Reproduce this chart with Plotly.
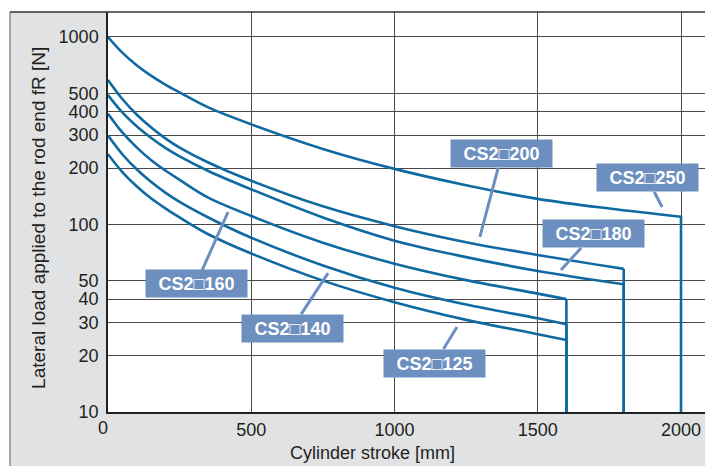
import math
import plotly.graph_objects as go

# ---------------- data ----------------
models = ["CS2□250", "CS2□200", "CS2□180", "CS2□160", "CS2□140", "CS2□125"]

stroke_250 = [0, 50, 100, 150, 200, 250, 350, 500, 750, 1000, 1250, 1500, 1750, 2000]
load_250 = [1000, 825, 707, 622, 557, 506, 421, 342, 253, 198, 162, 137, 121.6, 110]

stroke_200 = [0, 50, 100, 150, 200, 250, 350, 500, 750, 1000, 1250, 1500, 1800]
load_200 = [590, 467, 386, 330, 288, 257, 214, 171, 125, 98, 80.5, 68.7, 58]

stroke_180 = [0, 50, 100, 150, 200, 250, 350, 500, 750, 1000, 1250, 1500, 1800]
load_180 = [490, 396, 334, 290, 256, 230.7, 193, 154, 109, 82, 67, 56.5, 48]

stroke_160 = [0, 50, 100, 150, 200, 250, 350, 500, 750, 1000, 1250, 1500, 1600]
load_160 = [390, 310, 258, 221, 194, 173, 139, 111, 80, 61.8, 50.5, 42.8, 40]

stroke_140 = [0, 50, 100, 150, 200, 250, 350, 500, 750, 1000, 1250, 1500, 1600]
load_140 = [298, 237, 197, 169, 148, 132, 109, 85, 60.5, 46, 37.4, 31.6, 29.4]

stroke_125 = [0, 50, 100, 150, 200, 250, 350, 500, 750, 1000, 1250, 1500, 1600]
load_125 = [237, 190.5, 160, 138, 122, 109, 88.7, 70, 50.2, 38.5, 31, 26, 24.2]

y_floor = 10  # lower limit of the chart the curves drop to

# label callouts: point on curve (stroke, load) for each model
label_tip_stroke = [1934, 1298, 1581, 419, 768, 1218]
label_tip_load = [124, 85.8, 57.2, 116.6, 55, 28.4]

x_tickvals = [500, 1000, 1500, 2000]
x_ticktext = ["500", "1000", "1500", "2000"]
y_tickvals = [10, 20, 30, 40, 50, 100, 200, 300, 400, 500, 1000]
y_ticktext = ["10", "20", "30", "40", "50", "100", "200", "300", "400", "500", "1000"]

# ---------------- styling ----------------
CURVE = "#0f6aa1"
LABEL_BG = "#6d8fbf"
TXT = "#231f20"
FONT = "Liberation Sans, Arial, sans-serif"

fig = go.Figure()

series = [
    (stroke_250, load_250),
    (stroke_200, load_200),
    (stroke_180, load_180),
    (stroke_160, load_160),
    (stroke_140, load_140),
    (stroke_125, load_125),
]

for name, (sx, sy) in zip(models, series):
    fig.add_trace(go.Scatter(
        x=sx, y=sy, mode="lines", name=name,
        line=dict(color=CURVE, width=2.6, shape="spline", smoothing=1.0),
        showlegend=False, hoverinfo="skip"))
    fig.add_trace(go.Scatter(
        x=[sx[-1], sx[-1]], y=[sy[-1], y_floor], mode="lines",
        line=dict(color=CURVE, width=2.6),
        showlegend=False, hoverinfo="skip"))

# label boxes
label_offsets = [(-15, -29), (22, -83), (33, -36), (-32, 72), (-36, 55), (-22, 36)]
for name, tx, ty, (ax, ay) in zip(models, label_tip_stroke, label_tip_load, label_offsets):
    fig.add_annotation(
        x=tx, y=math.log10(ty), xref="x", yref="y",
        text=name, showarrow=True, arrowhead=0, arrowwidth=3,
        arrowcolor=LABEL_BG, ax=ax, ay=ay,
        bgcolor=LABEL_BG, borderpad=2, width=97, height=23,
        font=dict(family=FONT, size=18, color="white", weight="bold"))

# axis titles and the lone "0" tick label
fig.add_annotation(x=0.438, y=-0.1025, xref="paper", yref="paper",
                   text="Cylinder stroke [mm]", showarrow=False,
                   xanchor="center", yanchor="middle",
                   font=dict(family=FONT, size=18, color=TXT))
fig.add_annotation(x=-0.1152, y=0.486, xref="paper", yref="paper",
                   text="Lateral load applied to the rod end fR [N]",
                   textangle=-90, showarrow=False,
                   xanchor="center", yanchor="middle",
                   font=dict(family=FONT, size=19, color=TXT))
fig.add_annotation(x=-0.0078, y=-0.04, xref="paper", yref="paper",
                   text="0", showarrow=False, xanchor="center", yanchor="middle",
                   font=dict(family=FONT, size=18, color=TXT))

# panel frame: white strips outside the grey panel, border lines
fig.add_shape(type="rect", xref="paper", yref="paper", x0=-0.3, x1=1.1, y0=1.0, y1=1.2,
              fillcolor="white", line=dict(width=0), layer="below")
fig.add_shape(type="rect", xref="paper", yref="paper", x0=-0.3, x1=-0.162, y0=-0.3, y1=1.2,
              fillcolor="white", line=dict(width=0), layer="below")
fig.add_shape(type="line", xref="paper", yref="paper", x0=-0.162, x1=-0.162, y0=-0.3, y1=1.0,
              line=dict(color="#8c8c8c", width=1.5))
fig.add_shape(type="line", xref="paper", yref="paper", x0=-0.162, x1=1.05, y0=1.0, y1=1.0,
              line=dict(color="#333333", width=1.5))

axis_common = dict(
    showgrid=True, gridcolor="#4a4a4a", gridwidth=1.2,
    showline=True, linecolor="#222222", linewidth=1.5,
    zeroline=False, ticks="", automargin=False,
    tickfont=dict(family=FONT, size=18, color=TXT),
)

# the page body has an 8px margin, so the figure is laid out 8px up/left
fig.update_layout(
    width=713, height=466,
    margin=dict(l=100, r=8, t=4, b=62, pad=0),
    paper_bgcolor="#e1e2e4", plot_bgcolor="white",
    xaxis=dict(range=[0, 2111.7], tickvals=x_tickvals, ticktext=x_ticktext,
               ticklabelstandoff=1, **axis_common),
    yaxis=dict(type="log", range=[1, 3.1333], tickvals=y_tickvals, ticktext=y_ticktext,
               ticklabelstandoff=4, **axis_common),
)

fig.write_html("out.html")
